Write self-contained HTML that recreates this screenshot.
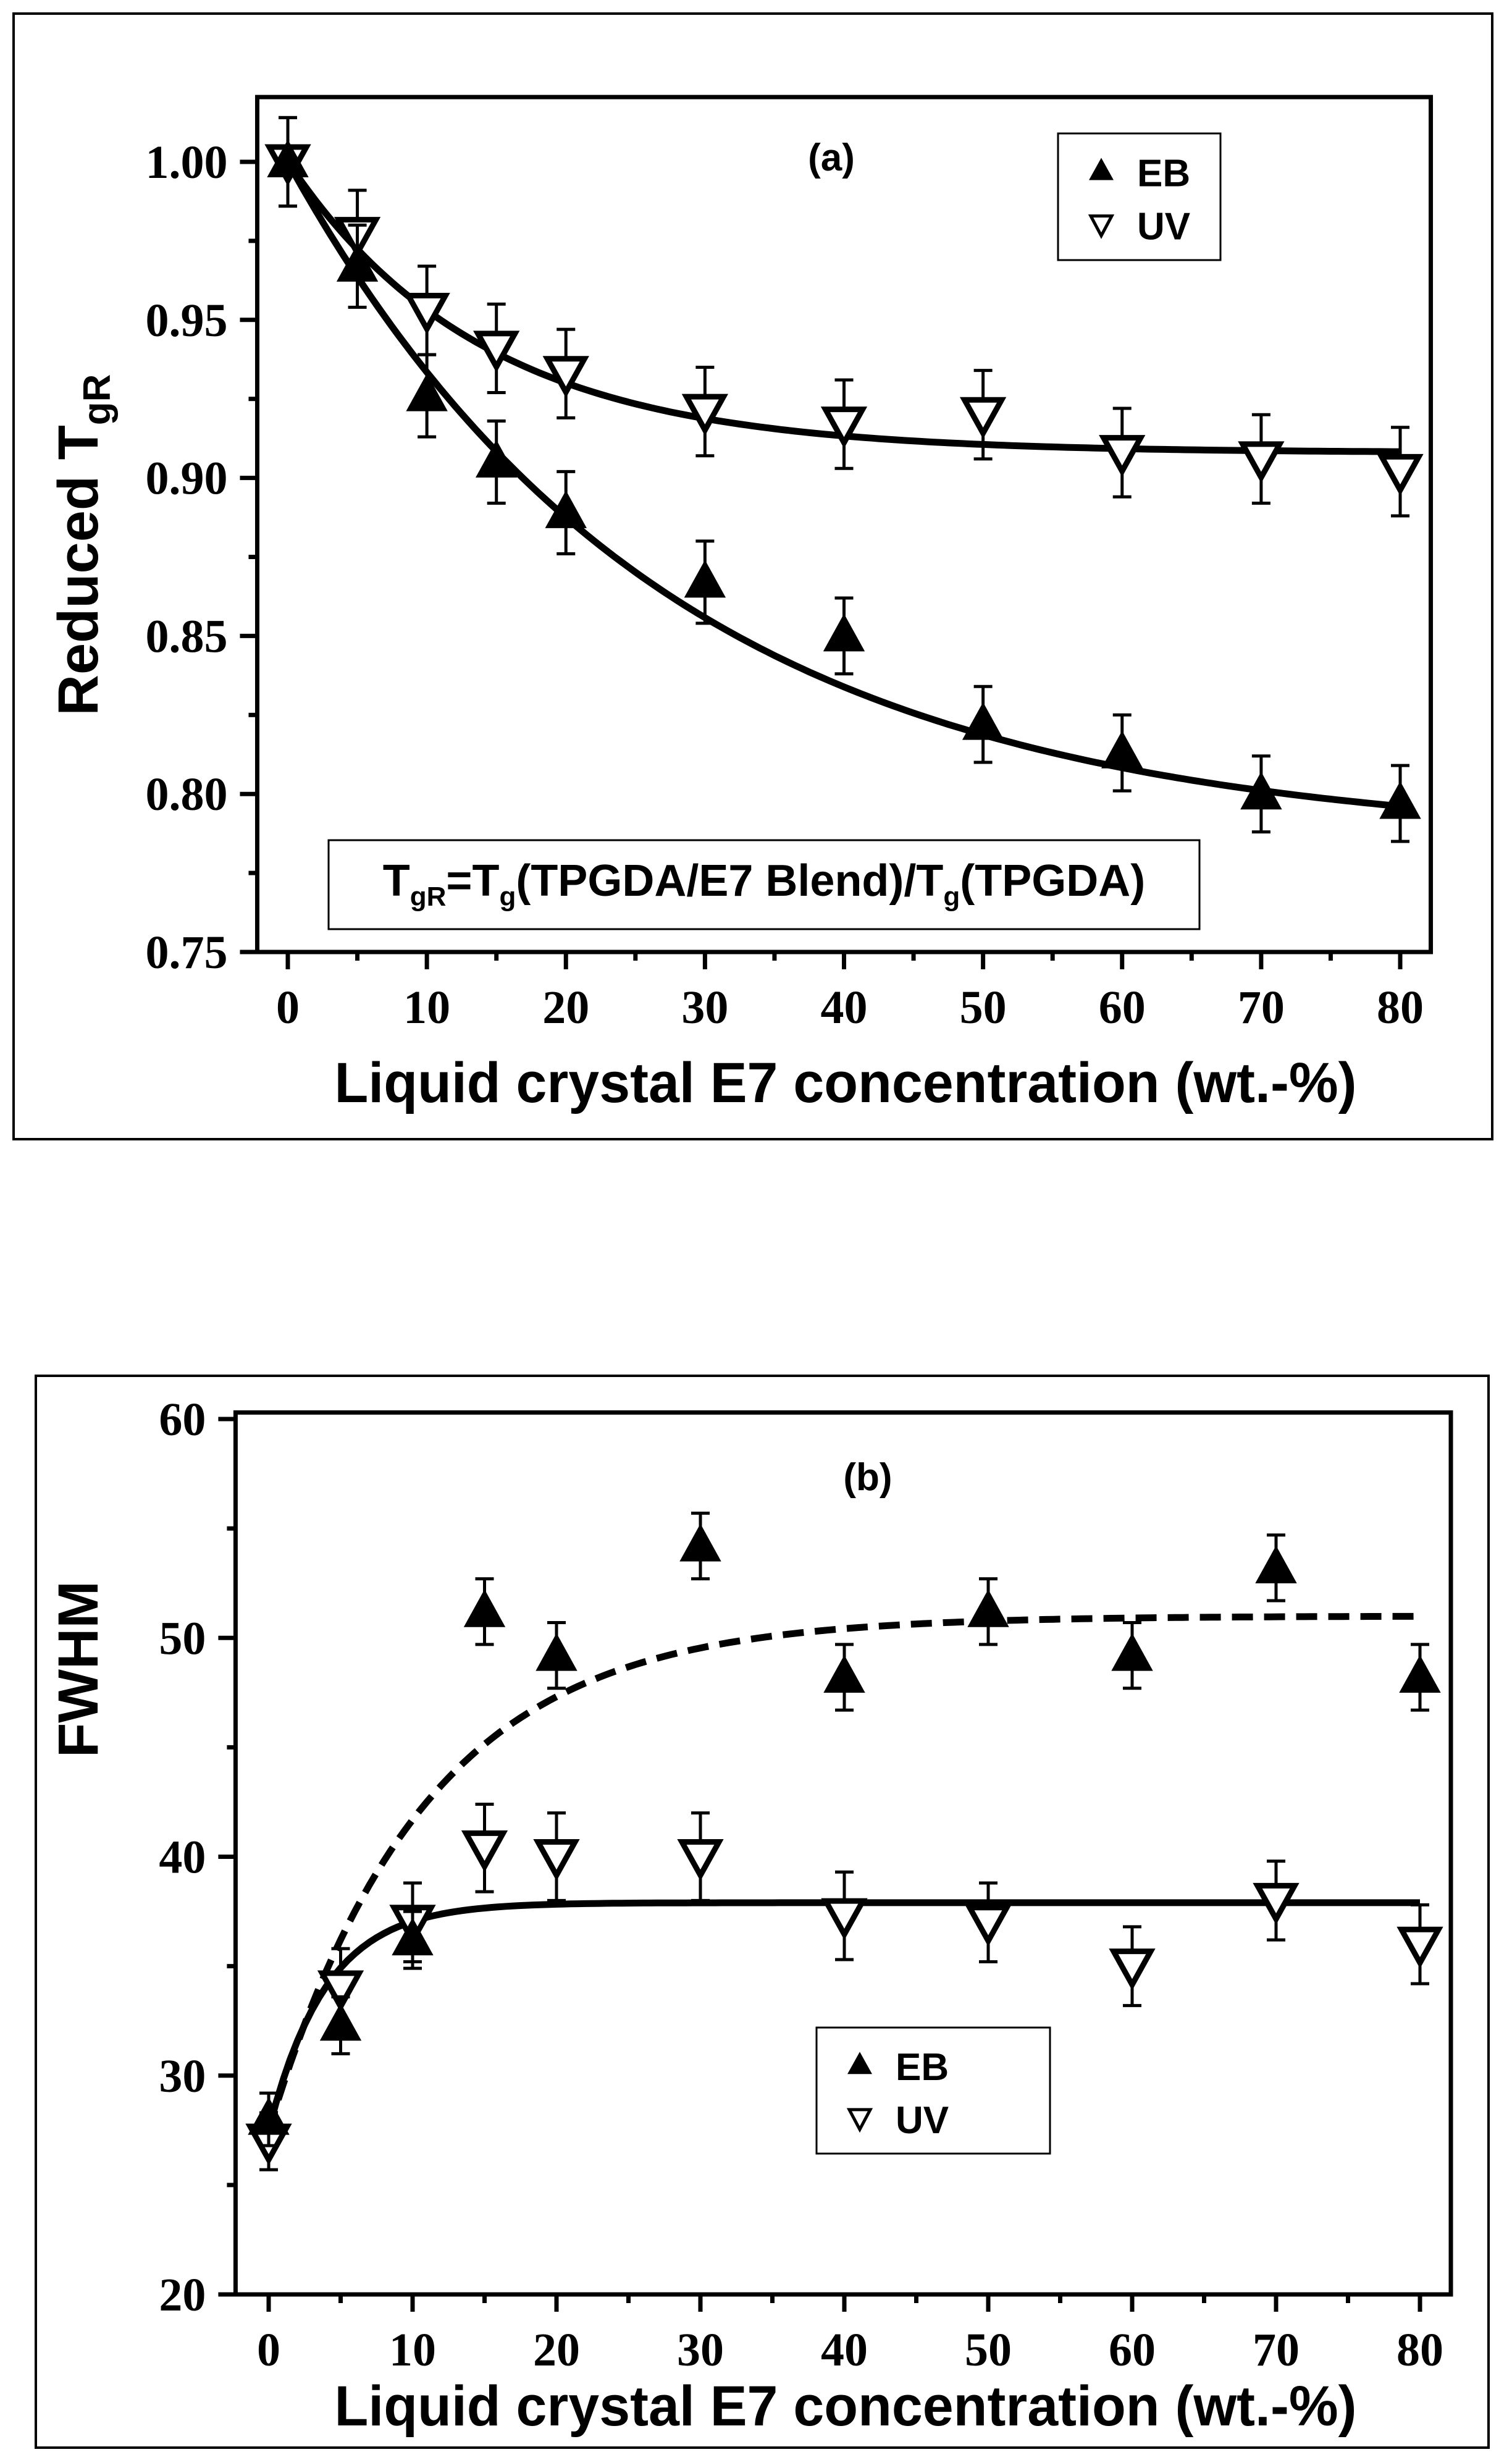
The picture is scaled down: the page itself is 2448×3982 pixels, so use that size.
<!DOCTYPE html>
<html><head><meta charset="utf-8">
<style>
html,body{margin:0;padding:0;background:#fff;}
svg{display:block;}
text{fill:#000;}
.tick{font-family:"Liberation Serif",serif;font-weight:bold;font-size:76px;}
.title{font-family:"Liberation Sans",sans-serif;font-weight:bold;font-size:92px;}
.leg{font-family:"Liberation Sans",sans-serif;font-weight:bold;font-size:62px;}
</style></head>
<body>
<svg id="chart" width="2448" height="3982" viewBox="0 0 2448 3982" xmlns="http://www.w3.org/2000/svg">
<rect x="22" y="22" width="2394" height="1822" fill="none" stroke="#000" stroke-width="4"/>
<rect x="58" y="2227" width="2352" height="1735" fill="none" stroke="#000" stroke-width="4"/>
<g id="ga"></g>
<g id="gb"></g>
</svg>
<script>
// ---- Panel (a) data ----
const conc = [0, 5, 10, 15, 20, 30, 40, 50, 60, 70, 80];
const aEB = [1.000, 0.967, 0.926, 0.905, 0.889, 0.867, 0.850, 0.822, 0.813, 0.800, 0.797];
const aUV = [1.000, 0.977, 0.953, 0.941, 0.933, 0.921, 0.917, 0.920, 0.908, 0.906, 0.902];
const aErrEB = [0.014, 0.013, 0.013, 0.013, 0.013, 0.013, 0.012, 0.012, 0.012, 0.012, 0.012];
const aErrUV = [0.014, 0.014, 0.014, 0.014, 0.014, 0.014, 0.014, 0.014, 0.014, 0.014, 0.014];
const aFitEB = [0.785, 0.215, 27];   // A, B, t : A + B*exp(-x/t)
const aFitUV = [0.908, 0.092, 14];
const aYTicks = ["0.75", "0.80", "0.85", "0.90", "0.95", "1.00"];
const xTicks = ["0", "10", "20", "30", "40", "50", "60", "70", "80"];
// ---- Panel (b) data ----
const bEB = [28, 32.3, 36.2, 51.2, 49.2, 54.2, 48.2, 51.2, 49.2, 53.2, 48.2];
const bUV = [27, 34, 37, 40.4, 40, 40, 37.3, 37, 35, 38, 36];
const bErrEB = [1.2, 1.3, 1.3, 1.5, 1.5, 1.5, 1.5, 1.5, 1.5, 1.5, 1.5];
const bErrUV = [1.3, 1.8, 1.8, 2.0, 2.0, 2.0, 2.0, 1.8, 1.8, 1.8, 1.8];
const bFitEB = [51, -23.5, 10.8];
const bFitUV = [37.9, -10.4, 4];
const bYTicks = ["20", "30", "40", "50", "60"];

const NS = "http://www.w3.org/2000/svg";
function mk(parent, tag, attrs, txt) {
  const e = document.createElementNS(NS, tag);
  for (const k in attrs) e.setAttribute(k, attrs[k]);
  if (txt !== undefined) e.textContent = txt;
  parent.appendChild(e);
  return e;
}

function panel(g, cfg) {
  const sx = v => cfg.x0 + (v - cfg.xmin) / (cfg.xmax - cfg.xmin) * (cfg.x1 - cfg.x0);
  const sy = v => cfg.y1 - (v - cfg.ymin) / (cfg.ymax - cfg.ymin) * (cfg.y1 - cfg.y0);
  const ytop = cfg.ytopVal, xl = sx(cfg.xl), xr = sx(cfg.xr), yt = sy(ytop);
  const box = mk(g, "rect", {x: xl, y: yt, width: xr - xl, height: cfg.y1 - yt, fill: "none", stroke: "#000", "stroke-width": 7});
  
  
  for (let v = 0; v <= 80; v += 5) {
    const major = v % 10 === 0;
    const t = mk(g, "line", {x1: sx(v), x2: sx(v), y1: cfg.y1, y2: cfg.y1 + (major ? 28 : 14), stroke: "#000", "stroke-width": 7});
    
    
  }
  xTicks.forEach(s => {
    const t = mk(g, "text", {x: sx(+s), y: cfg.y1 + 115, "text-anchor": "middle", class: "tick"}, s);
    
    
  });
  const ys = cfg.yTicks.map(Number);
  const step = ys[1] - ys[0];
  for (let i = 0; i < ys.length; i++) {
    const v = ys[i];
    const t = mk(g, "line", {x1: xl - 28, x2: xl, y1: sy(v), y2: sy(v), stroke: "#000", "stroke-width": 7});
    
    
    if (i < ys.length - 1) {
      const m = mk(g, "line", {x1: xl - 14, x2: xl, y1: sy(v + step / 2), y2: sy(v + step / 2), stroke: "#000", "stroke-width": 7});
      
      
    }
    const l = mk(g, "text", {x: xl - 48, y: sy(v) + 26, "text-anchor": "end", class: "tick"}, cfg.yTicks[i]);
    
    
  }
  [[cfg.fitEB, cfg.dashEB, 'fit-curve-eb'], [cfg.fitUV, null, 'fit-curve-uv']].forEach(([p, dash, nm]) => {
    let d = "";
    for (let x = 0; x <= 80.001; x += 0.5) {
      const y = p[0] + p[1] * Math.exp(-x / p[2]);
      d += (x === 0 ? "M" : "L") + sx(x).toFixed(1) + "," + sy(y).toFixed(1);
    }
    const a = {d: d, fill: "none", stroke: "#000", "stroke-width": 11, "stroke-linejoin": "round"};
    if (dash) a["stroke-dasharray"] = dash;
    const path = mk(g, "path", a);
    
    
  });
  function series(vals, errs, filled, nm) {
    conc.forEach((c, i) => {
      const x = sx(c), ya = sy(vals[i] + errs[i]), yb = sy(vals[i] - errs[i]);
      const eg = mk(g, "g", {stroke: "#000", "stroke-width": 5});
      
      
      mk(eg, "line", {x1: x, x2: x, y1: ya, y2: yb});
      mk(eg, "line", {x1: x - 15, x2: x + 15, y1: ya, y2: ya});
      mk(eg, "line", {x1: x - 15, x2: x + 15, y1: yb, y2: yb});
    });
    conc.forEach((c, i) => {
      const x = sx(c), y = sy(vals[i]);
      let pts;
      if (filled) pts = [[x, y - 34], [x - 32, y + 24], [x + 32, y + 24]];
      else pts = [[x - 30, y - 24], [x + 30, y - 24], [x, y + 30]];
      const m = mk(g, "polygon", {points: pts.map(p => p.join(",")).join(" "), fill: filled ? "#000" : "#fff", stroke: "#000", "stroke-width": filled ? 2 : 9, "stroke-linejoin": "miter"});
      
      
    });
  }
  series(cfg.uv, cfg.errUV, false, 'uv');
  series(cfg.eb, cfg.errEB, true, 'eb');
  const L = cfg.leg;
  const lg = mk(g, "g", {});
  
  
  mk(lg, "rect", {x: L[0], y: L[1], width: L[2], height: L[3], fill: "#fff", stroke: "#000", "stroke-width": 3});
  const lx = L[0] + 70, ly1 = L[1] + L[3] * 0.3, ly2 = L[1] + L[3] * 0.72;
  mk(lg, "polygon", {points: `${lx},${ly1 - 22} ${lx - 20},${ly1 + 14} ${lx + 20},${ly1 + 14}`, fill: "#000"});
  mk(lg, "polygon", {points: `${lx - 17},${ly2 - 14} ${lx + 17},${ly2 - 14} ${lx},${ly2 + 18}`, fill: "#fff", stroke: "#000", "stroke-width": 5});
  const t1 = mk(lg, "text", {x: lx + 58, y: ly1 + 24, class: "leg"}, "EB");
  
  
  const t2 = mk(lg, "text", {x: lx + 58, y: ly2 + 24, class: "leg"}, "UV");
  
  
  return {sx, sy};
}

const ga = document.getElementById("ga");
panel(ga, {x0: 466, x1: 2267, xmin: 0, xmax: 80, xl: -2.2, xr: 82.2,
  y0: 262, y1: 1541, ymin: 0.75, ymax: 1.00, ytopVal: 1.0205,
  yTicks: aYTicks, eb: aEB, uv: aUV, errEB: aErrEB, errUV: aErrUV,
  fitEB: aFitEB, fitUV: aFitUV, dashEB: null, leg: [1713, 216, 263, 205]});
const gb = document.getElementById("gb");
panel(gb, {x0: 435, x1: 2299, xmin: 0, xmax: 80, xl: -2.3, xr: 80 + 50 / 23.3,
  y0: 2297, y1: 3714, ymin: 20, ymax: 60, ytopVal: 60.3,
  yTicks: bYTicks, eb: bEB, uv: bUV, errEB: bErrEB, errUV: bErrUV,
  fitEB: bFitEB, fitUV: bFitUV, dashEB: "34,18", leg: [1322, 3282, 378, 204]});

const svg = document.getElementById("chart");
function txt(x, y, s, cls, extra, name) {
  const t = mk(svg, "text", Object.assign({x: x, y: y, class: cls, "text-anchor": "middle"}, extra || {}));
  t.innerHTML = s;
  
  
  return t;
}
txt(1346, 276, "(a)", "leg", {}, "panel-a-label");
txt(1405, 2412, "(b)", "leg", {}, "panel-b-label");
txt(1369, 1784, "Liquid crystal E7 concentration (wt.-%)", "title", {textLength: 1655, lengthAdjust: "spacingAndGlyphs"}, "x-axis-title-a");
txt(1369, 3926, "Liquid crystal E7 concentration (wt.-%)", "title", {textLength: 1655, lengthAdjust: "spacingAndGlyphs"}, "x-axis-title-b");
txt(0, 0, 'Reduced T<tspan font-size="62" dy="20">gR</tspan>', "title", {transform: "translate(158,882) rotate(-90)"}, "y-axis-title-a");
txt(0, 0, "FWHM", "title", {transform: "translate(158,2702) rotate(-90)"}, "y-axis-title-b");
const fb = mk(svg, "rect", {x: 532, y: 1360, width: 1410, height: 144, fill: "#fff", stroke: "#000", "stroke-width": 3});


txt(1237, 1450, 'T<tspan font-size="44" dy="16">gR</tspan><tspan dy="-16">=T</tspan><tspan font-size="44" dy="16">g</tspan><tspan dy="-16">(TPGDA/E7 Blend)/T</tspan><tspan font-size="44" dy="16">g</tspan><tspan dy="-16">(TPGDA)</tspan>', "leg", {style: "font-size:72px"}, "formula-text");
</script>
</body></html>
